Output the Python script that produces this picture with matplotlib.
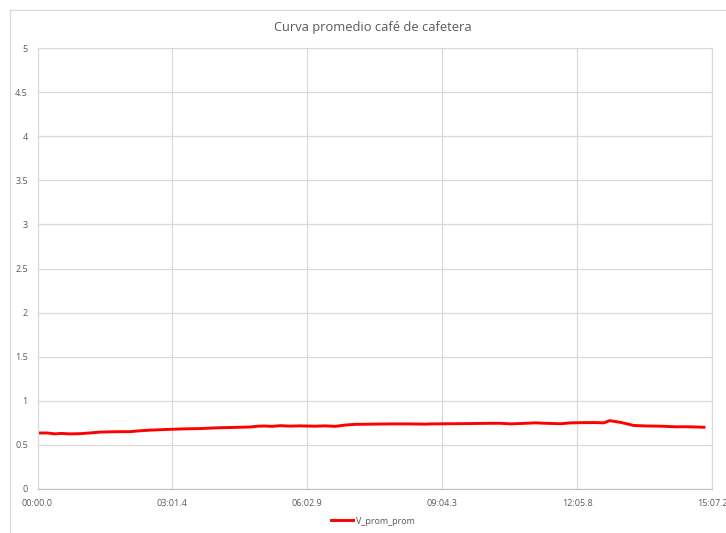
import matplotlib.pyplot as plt
from matplotlib.lines import Line2D

# tiempo en segundos y voltaje promedio
t_seg = [0, 13.5, 22.9, 32.4, 43.1, 56.6, 70.1, 83.6, 97.1, 110.5, 124.0, 130.8,
         137.5, 151.0, 164.5, 180.6, 198.2, 218.4, 231.9, 245.4, 258.9, 272.3,
         285.8, 296.6, 306.0, 315.5, 326.3, 339.7, 353.2, 362.6, 373.4, 386.9,
         400.4, 413.9, 427.3, 447.5, 474.5, 501.5, 521.7, 528.4, 555.4, 582.3,
         609.3, 622.8, 636.3, 656.5, 670.0, 683.4, 703.7, 717.1, 730.6, 750.8,
         761.6, 769.7, 784.5, 802.1, 818.2, 838.4, 858.7, 872.2, 885.6, 896.4]
v_prom = [0.635, 0.635, 0.625, 0.630, 0.625, 0.627, 0.635, 0.645, 0.648, 0.650,
          0.650, 0.655, 0.660, 0.667, 0.672, 0.677, 0.682, 0.685, 0.690, 0.695,
          0.697, 0.700, 0.703, 0.712, 0.714, 0.710, 0.718, 0.713, 0.716, 0.714,
          0.712, 0.716, 0.710, 0.725, 0.733, 0.735, 0.738, 0.738, 0.735, 0.738,
          0.740, 0.742, 0.745, 0.745, 0.738, 0.745, 0.750, 0.745, 0.740, 0.750,
          0.752, 0.753, 0.750, 0.775, 0.755, 0.720, 0.715, 0.712, 0.705, 0.706,
          0.703, 0.700]
x_ticks = [0, 181.44, 362.88, 544.32, 725.76, 907.2]
x_labels = ['00:00.0', '03:01.4', '06:02.9', '09:04.3', '12:05.8', '15:07.2']

plt.rcParams['font.family'] = ['Open Sans', 'DejaVu Sans']
gris = '#595959'

fig = plt.figure(figsize=(7.26, 5.33), dpi=100)
ax = fig.add_axes([37.5 / 726, 1 - 489 / 533, (712 - 37.5) / 726, (489 - 48) / 533])

ax.plot(t_seg, v_prom, color='#ff0000', lw=2.1, label='V_prom_prom')

ax.set_xlim(0, 907.2)
ax.set_ylim(0, 5)
ax.set_xticks(x_ticks)
ax.set_xticklabels(x_labels)
ax.set_yticks([0, 0.5, 1, 1.5, 2, 2.5, 3, 3.5, 4, 4.5, 5])
ax.set_yticklabels(['0', '0.5', '1', '1.5', '2', '2.5', '3', '3.5', '4', '4.5', '5'])
ax.tick_params(length=0, labelsize=6.5, colors=gris, pad=7)
ax.grid(color='#d9d9d9', lw=0.9)
ax.set_axisbelow(True)
for s in ['top', 'right', 'left']:
    ax.spines[s].set_color('#d9d9d9')
ax.spines['bottom'].set_color('#bfbfbf')

fig.text(373 / 726, 1 - 27 / 533, 'Curva promedio café de cafetera', ha='center', va='center',
         fontsize=9.3, color=gris)

ax.legend(loc='center', bbox_to_anchor=(373 / 726, 1 - 521 / 533), bbox_transform=fig.transFigure,
          frameon=False, fontsize=6.5, labelcolor=gris, handlelength=2.5, handletextpad=0.3)

# marco exterior del grafico
fig.add_artist(Line2D([9.5 / 726, 1], [1 - 9.5 / 533, 1 - 9.5 / 533], color='#d9d9d9', lw=0.9,
                      transform=fig.transFigure))
fig.add_artist(Line2D([9.5 / 726, 9.5 / 726], [0, 1 - 9.5 / 533], color='#d9d9d9', lw=0.9,
                      transform=fig.transFigure))

fig.savefig('out.png', dpi=100)
